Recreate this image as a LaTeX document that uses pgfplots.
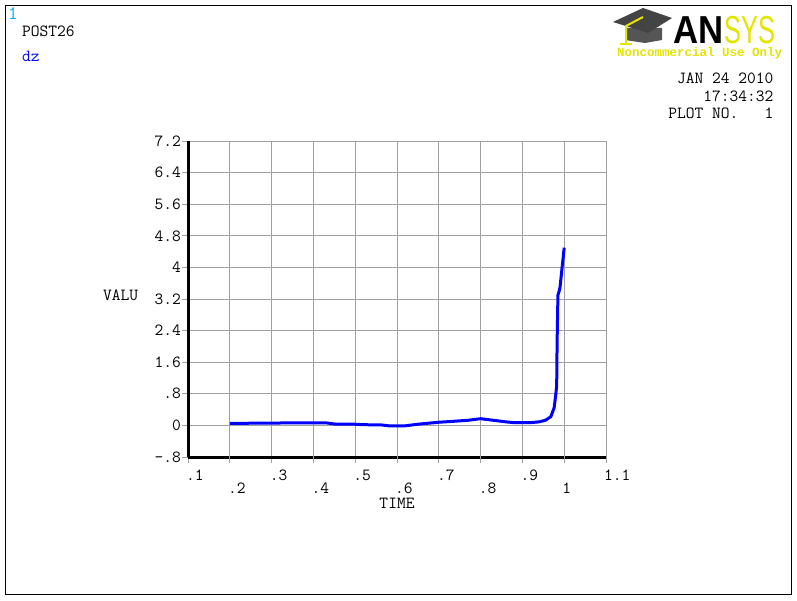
\documentclass[border=0pt]{standalone}
\usepackage{pgfplots}
\pgfplotsset{compat=1.18}
\usepackage{fontspec}
\newfontfamily\logofont{Liberation Sans}
\newfontfamily\ncfont{Liberation Mono}
\definecolor{ansysyellow}{RGB}{228,228,0}
\definecolor{capgray}{RGB}{85,85,85}
\definecolor{gridgray}{RGB}{160,160,160}
\newcommand\af{\fontsize{17}{18}\selectfont\ttfamily}
\begin{document}
\begin{tikzpicture}
\begin{scope}[x=1pt,y=1pt]
\path[use as bounding box] (0,0) rectangle (797,600);
\draw[line width=1pt] (5.5,5.5) rectangle (791.5,594.5);
% header texts
\node[anchor=base west, inner sep=0pt, text=cyan, font=\fontsize{19}{20}\selectfont\ttfamily] at (8,580) {1};
\node[anchor=base west, inner sep=0pt, font=\af] at (22,563.5) {POST26};
\node[anchor=base west, inner sep=0pt, text=blue, font=\af] at (22,538.5) {dz};
\node[anchor=base east, inner sep=0pt, font=\af] at (773.5,516.7) {JAN 24 2010};
\node[anchor=base east, inner sep=0pt, font=\af] at (773.5,498.3) {17:34:32};
\node[anchor=base east, inner sep=0pt, font=\af] at (773.5,481.7) {PLOT NO.\ \ \ 1};
% logo
\fill[capgray] (625,572) -- (662,572) -- (662,560) -- (645,557) -- (625,560) -- cycle;
\fill[capgray!80!black] (613,578) -- (643,592) -- (672,582) -- (648,567) -- cycle;
\draw[ansysyellow, line width=2pt] (643,583) -- (626,574) -- (626,556);
\draw[ansysyellow, line width=2pt] (620,556) -- (632,556);
\node[anchor=base west, inner sep=0pt, font=\logofont\bfseries\fontsize{39}{39}\selectfont] at (673,556.7) {\scalebox{0.89}[1]{AN}};
\node[anchor=base west, inner sep=0pt, text=ansysyellow, font=\logofont\fontsize{39}{39}\selectfont] at (724,556.7) {\scalebox{0.65}[1]{SYS}};
\node[anchor=base west, inner sep=0pt, text=ansysyellow, font=\ncfont\bfseries\fontsize{12.5}{13}\selectfont] at (617,543) {Noncommercial Use Only};
% axis labels
\node[anchor=base west, inner sep=0pt, font=\af] at (103,299) {VALU};
\node[anchor=base, inner sep=0pt, font=\af] at (397,92) {TIME};
\end{scope}
\begin{axis}[
  at={(188pt,143pt)}, anchor=south west, scale only axis,
  width=418pt, height=316pt,
  xmin=0.1, xmax=1.1, ymin=-0.8, ymax=7.2,
  axis x line*=bottom, axis y line*=left,
  axis line style={line width=3pt, -},
  xtick={0.1,0.3,0.5,0.7,0.9,1.1},
  xticklabels={.1,.3,.5,.7,.9,1.1},
  extra x ticks={0.2,0.4,0.6,0.8,1.0},
  extra x tick labels={.2,.4,.6,.8,1},
  extra x tick style={grid=major, xticklabel style={yshift=-13pt}},
  ytick={-0.8,0,0.8,1.6,2.4,3.2,4,4.8,5.6,6.4,7.2},
  yticklabels={-.8,0,.8,1.6,2.4,3.2,4,4.8,5.6,6.4,7.2},
  grid=major, major grid style={gridgray, line width=1pt},
  tick style={gridgray, line width=1pt}, tick align=outside, major tick length=6pt,
  xticklabel style={anchor=north west, inner sep=0pt, xshift=-2pt, yshift=-7pt},
  yticklabel style={anchor=east, inner sep=0pt, xshift=-1pt},
  tick label style={font=\af},
]
\addplot[blue, line width=3pt, line join=round] table {
0.2 0.05
0.3 0.06
0.43 0.065
0.45 0.035
0.5 0.03
0.52 0.017
0.56 0.015
0.58 -0.01
0.62 -0.01
0.65 0.03
0.68 0.06
0.7 0.08
0.73 0.10
0.77 0.13
0.8 0.17
0.83 0.13
0.86 0.09
0.88 0.07
0.92 0.07
0.94 0.09
0.955 0.13
0.968 0.22
0.976 0.45
0.98 0.8
0.982 1.0
0.983 2.1
0.985 3.3
0.988 3.4
0.99 3.5
0.995 4.0
1.0 4.5
};
\end{axis}
\end{tikzpicture}
\end{document}
